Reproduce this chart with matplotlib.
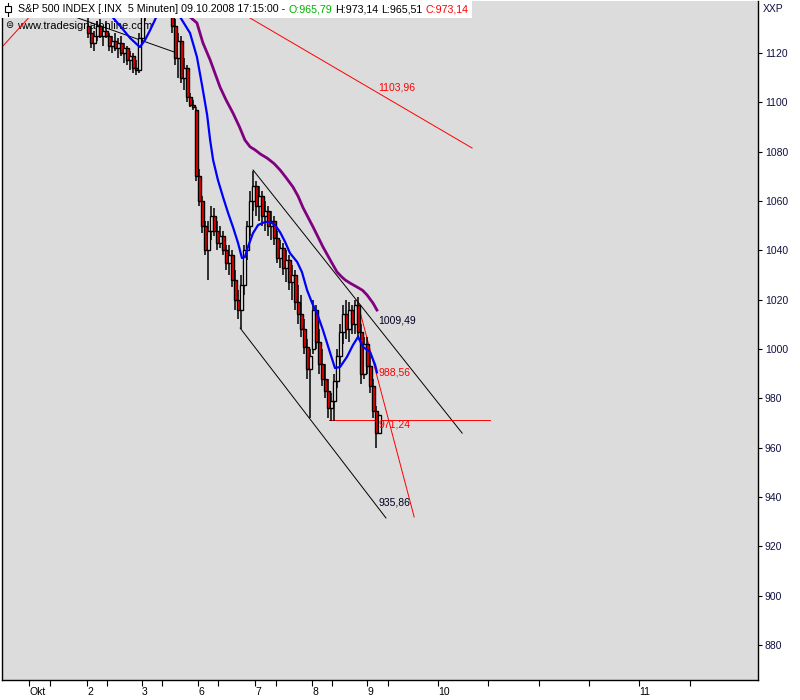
import matplotlib
matplotlib.use("Agg")
import matplotlib.pyplot as plt
from matplotlib.patches import Rectangle
from matplotlib.lines import Line2D

plt.rcParams['font.family'] = ['Liberation Sans', 'DejaVu Sans']

# 5-min bars, S&P 500, 2.-9. Okt 2008 (one row ~ 3 bars)
opens = [1131, 1128, 1124, 1127, 1131, 1127, 1129, 1127, 1123, 1125,
         1122, 1124, 1120, 1122, 1117, 1119, 1114, 1113, 1126, 1136,
         1143, 1148, 1152, 1155, 1150, 1153, 1149, 1146, 1142, 1131,
         1118, 1125, 1110, 1114, 1102, 1099, 1097, 1070, 1060, 1050,
         1040, 1048, 1054, 1048, 1043, 1046, 1040, 1035, 1038, 1028,
         1020, 1016, 1026, 1040, 1050, 1060, 1066, 1058, 1062, 1054,
         1056, 1050, 1052, 1045, 1037, 1041, 1033, 1036, 1027, 1030,
         1019, 1014, 1008, 1001, 992, 1000, 1016, 1003, 994, 988,
         983, 976, 979, 987, 997, 1007, 1014, 1008, 1016, 1010,
         1018, 1007, 990, 1002, 993, 985, 975, 965.79]
highs = [1136, 1131, 1129, 1133, 1134, 1130, 1133, 1128, 1127, 1128,
         1126, 1127, 1124, 1123, 1121, 1120, 1117, 1128, 1138, 1145,
         1150, 1155, 1158, 1157, 1156, 1154, 1151, 1148, 1146, 1134,
         1128, 1127, 1118, 1115, 1104, 1101, 1098, 1073, 1062, 1052,
         1052, 1058, 1057, 1052, 1050, 1048, 1042, 1042, 1040, 1032,
         1024, 1030, 1042, 1052, 1064, 1072, 1068, 1066, 1064, 1060,
         1058, 1056, 1054, 1048, 1044, 1043, 1040, 1038, 1034, 1032,
         1026, 1022, 1012, 1004, 1000, 1020, 1018, 1008, 1000, 994,
         988, 982, 990, 1000, 1010, 1018, 1020, 1019, 1018, 1020,
         1021, 1010, 1005, 1005, 998, 988, 977, 973.14]
lows = [1126, 1122, 1121, 1125, 1126, 1123, 1126, 1121, 1120, 1121,
        1118, 1119, 1116, 1115, 1113, 1112, 1111, 1112, 1124, 1133,
        1141, 1146, 1149, 1148, 1147, 1146, 1143, 1140, 1128, 1115,
        1110, 1108, 1105, 1100, 1098, 1097, 1068, 1058, 1047, 1038,
        1028, 1044, 1046, 1040, 1041, 1038, 1032, 1030, 1025, 1016,
        1012, 1008, 1022, 1036, 1046, 1056, 1054, 1052, 1050, 1048,
        1046, 1044, 1042, 1035, 1033, 1030, 1027, 1024, 1020, 1016,
        1010, 1005, 998, 988, 972, 998, 1000, 990, 985, 980,
        972, 971, 971, 984, 994, 1002, 1004, 1003, 1006, 1006,
        1004, 986, 988, 990, 982, 972, 960, 965.51]
closes = [1128, 1124, 1127, 1131, 1127, 1129, 1127, 1123, 1125, 1122,
          1124, 1120, 1122, 1117, 1119, 1114, 1113, 1126, 1136, 1143,
          1148, 1152, 1155, 1150, 1153, 1149, 1146, 1142, 1131, 1118,
          1125, 1110, 1114, 1102, 1099, 1098, 1070, 1060, 1050, 1040,
          1048, 1054, 1048, 1043, 1046, 1040, 1035, 1038, 1028, 1020,
          1016, 1026, 1040, 1050, 1060, 1066, 1058, 1062, 1054, 1056,
          1050, 1052, 1045, 1037, 1041, 1033, 1036, 1027, 1030, 1019,
          1014, 1008, 1001, 992, 997, 1016, 1003, 994, 988, 983,
          976, 979, 987, 997, 1007, 1014, 1008, 1016, 1010, 1018,
          1007, 990, 1002, 993, 985, 975, 966, 973.14]

# moving averages (bar position, value)
ma_fast_bar = [4, 6.7, 9, 11.3, 14, 17.3, 19, 20.7, 22.3, 24, 25.3, 27, 29, 30.7,
               34, 36.3, 38, 39.7, 40.7, 41.7, 43.3, 45, 46.7, 48.3, 50, 51.3,
               52.3, 53.3, 55, 56.7, 59, 60.7, 62.3, 64, 65.7, 67.3, 69.7, 71.3,
               73, 74.7, 76.3, 78.3, 80.7, 82.3, 84, 86.3, 88.3, 90, 91.7, 94,
               95.7, 96.3]
ma_fast_val = [1141.5, 1136.6, 1133.4, 1130.1, 1126.1, 1122.4, 1125.3, 1129.3,
               1133.4, 1138.2, 1141.5, 1145.5, 1141.5, 1134.6, 1128.1, 1118.4,
               1107.0, 1094.9, 1084.7, 1076.6, 1068.5, 1061.6, 1055.1, 1049.5,
               1043.0, 1036.9, 1037.3, 1041.4, 1047.0, 1050.3, 1051.5, 1051.5,
               1050.3, 1047.4, 1043.4, 1038.9, 1035.3, 1031.2, 1023.9, 1018.6,
               1014.6, 1007.7, 998.4, 992.3, 992.7, 996.8, 1001.6, 1004.9,
               1000.8, 998.8, 993.5, 990.5]
ma_slow_bar = [26, 28.3, 31, 34, 36.3, 38.3, 40.7, 44, 46, 48.3, 50.5, 52.3, 54,
               55.7, 57.5, 59.7, 62, 64, 66, 68.3, 70, 71.7, 73.5, 75, 78.3, 81,
               83, 84.5, 85.7, 87.5, 89.7, 91.5, 93, 95, 96.3]
ma_slow_val = [1146.0, 1141.5, 1138.0, 1134.6, 1132.2, 1124.1, 1117.2, 1106.2,
               1101.0, 1095.7, 1090.0, 1084.7, 1082.0, 1080.7, 1079.0, 1077.4,
               1075.2, 1072.6, 1069.5, 1065.7, 1062.0, 1057.2, 1053.0, 1049.5,
               1041.4, 1035.5, 1031.2, 1029.3, 1028.0, 1026.6, 1025.1, 1023.8,
               1021.9, 1018.6, 1015.8]

# drawn trend lines: (bar1, price1, bar2, price2, colour)
trend_lines = [
    (55.0, 1072.6, 124.7, 965.9, 'black'),
    (50.7, 1008.5, 99.3, 931.5, 'black'),
    (80.3, 971.24, 134.0, 971.24, 'red'),
    (89.7, 1019.5, 108.7, 931.9, 'red'),
    (54.0, 1134.2, 128.0, 1081.5, 'red'),
    (-28.7, 1122.4, -15.0, 1140.7, 'red'),
    (-4.3, 1134.6, 29.7, 1120.0, 'black'),
]
level_text = ['1103,96', '1009,49', '988,56', '971,24', '935,86']
level_val = [1103.96, 1009.49, 988.56, 971.24, 935.86]
level_col = ['#ff0000', '#000020', '#ff0000', '#ff0000', '#000020']

day_labels = ['Okt', '2', '3', '6', '7', '8', '9', '10', '11']
day_pos = [-19.67, -0.33, 18, 36.67, 55.67, 74.67, 93, 116.67, 183.67]
minor_pos = [-12.67, 6.33, 24.67, 43.33, 62.67, 81.33, 100, 133.33, 150.33, 167, 200.67]

W, H = 800, 700
fig = plt.figure(figsize=(8, 7), dpi=100)
fig.patch.set_facecolor('white')
ax = fig.add_axes([2 / W, 20 / H, 756 / W, 679 / H])
ax.set_facecolor('#dcdcdc')

n = len(closes)
x = list(range(n))
for i in x:
    o, h, l, c = opens[i], highs[i], lows[i], closes[i]
    ax.vlines(i, l, h, color='black', lw=1.1, zorder=3)
    col = '#ff0000' if c < o else 'white'
    ax.add_patch(Rectangle((i - 0.5, min(o, c)), 1.0, max(abs(c - o), 0.4),
                           facecolor=col, edgecolor='black', lw=1.0, zorder=4))

ax.plot(ma_slow_bar, ma_slow_val, color='#800080', lw=2.0, zorder=5)
ax.plot(ma_fast_bar, ma_fast_val, color='#0000ff', lw=1.6, zorder=6)

for b1, p1, b2, p2, c in trend_lines:
    ax.plot([b1, b2], [p1, p2], color=c, lw=0.7, zorder=2)

for t, v, c in zip(level_text, level_val, level_col):
    va = 'top' if t == '971,24' else 'bottom'
    ax.text(n - 1.2, v, t, color=c, fontsize=7.5, va=va, ha='left', zorder=7)

ax.text(0.02, 0.963, 'www.tradesignalonline.com', transform=ax.transAxes,
        fontsize=8, color='black', va='center', ha='left', zorder=1)
ax.text(0.004, 0.964, '\u229c', transform=ax.transAxes, fontsize=7,
        color='black', va='center', ha='left', zorder=1, family='DejaVu Sans')

ax.set_xlim(-28.67, 223.3)
ax.set_ylim(865.8, 1141.1)
ax.yaxis.tick_right()
ax.set_yticks(range(880, 1121, 20))
ax.tick_params(axis='y', direction='out', length=3, width=0.8, pad=2,
               labelsize=7.5, labelcolor='#101040', color='black')
ax.set_xticks(day_pos)
ax.set_xticklabels(day_labels)
ax.set_xticks(minor_pos, minor=True)
ax.tick_params(axis='x', which='both', direction='out', length=4, width=0.8,
               pad=1, labelsize=7.5, color='black')
for lbl in ax.get_xticklabels():
    lbl.set_ha('left')
ax.spines['top'].set_visible(False)
for s in ['left', 'bottom', 'right']:
    ax.spines[s].set_color('black')
    ax.spines[s].set_linewidth(1.0)

fig.text(763 / W, 1 - 9 / H, 'XXP', fontsize=7.5, color='#101040', va='center')

# header box
fig.add_artist(Rectangle((0, 1 - 18 / H), 472 / W, 18 / H, transform=fig.transFigure,
                         facecolor='white', edgecolor='none', zorder=10))
fig.add_artist(Line2D([8 / W, 8 / W], [1 - 3 / H, 1 - 16 / H], transform=fig.transFigure,
                      color='black', lw=0.8, zorder=11))
fig.add_artist(Rectangle((5 / W, 1 - 12 / H), 6 / W, 6 / H, transform=fig.transFigure,
                         facecolor='white', edgecolor='black', lw=0.8, zorder=12))

parts = [('S&P 500 INDEX [.INX  5 Minuten] 09.10.2008 17:15:00 -', 'black'),
         ('O:965,79', '#00b000'), ('H:973,14', 'black'), ('L:965,51', 'black'),
         ('C:973,14', '#ff0000')]
fig.canvas.draw()
r = fig.canvas.get_renderer()
px = 18
for s, c in parts:
    t = fig.text(px / W, 1 - 9 / H, s, fontsize=7.7, color=c, va='center', ha='left', zorder=13)
    px += t.get_window_extent(renderer=r).width + 3.0

fig.savefig('out.png', dpi=100)
